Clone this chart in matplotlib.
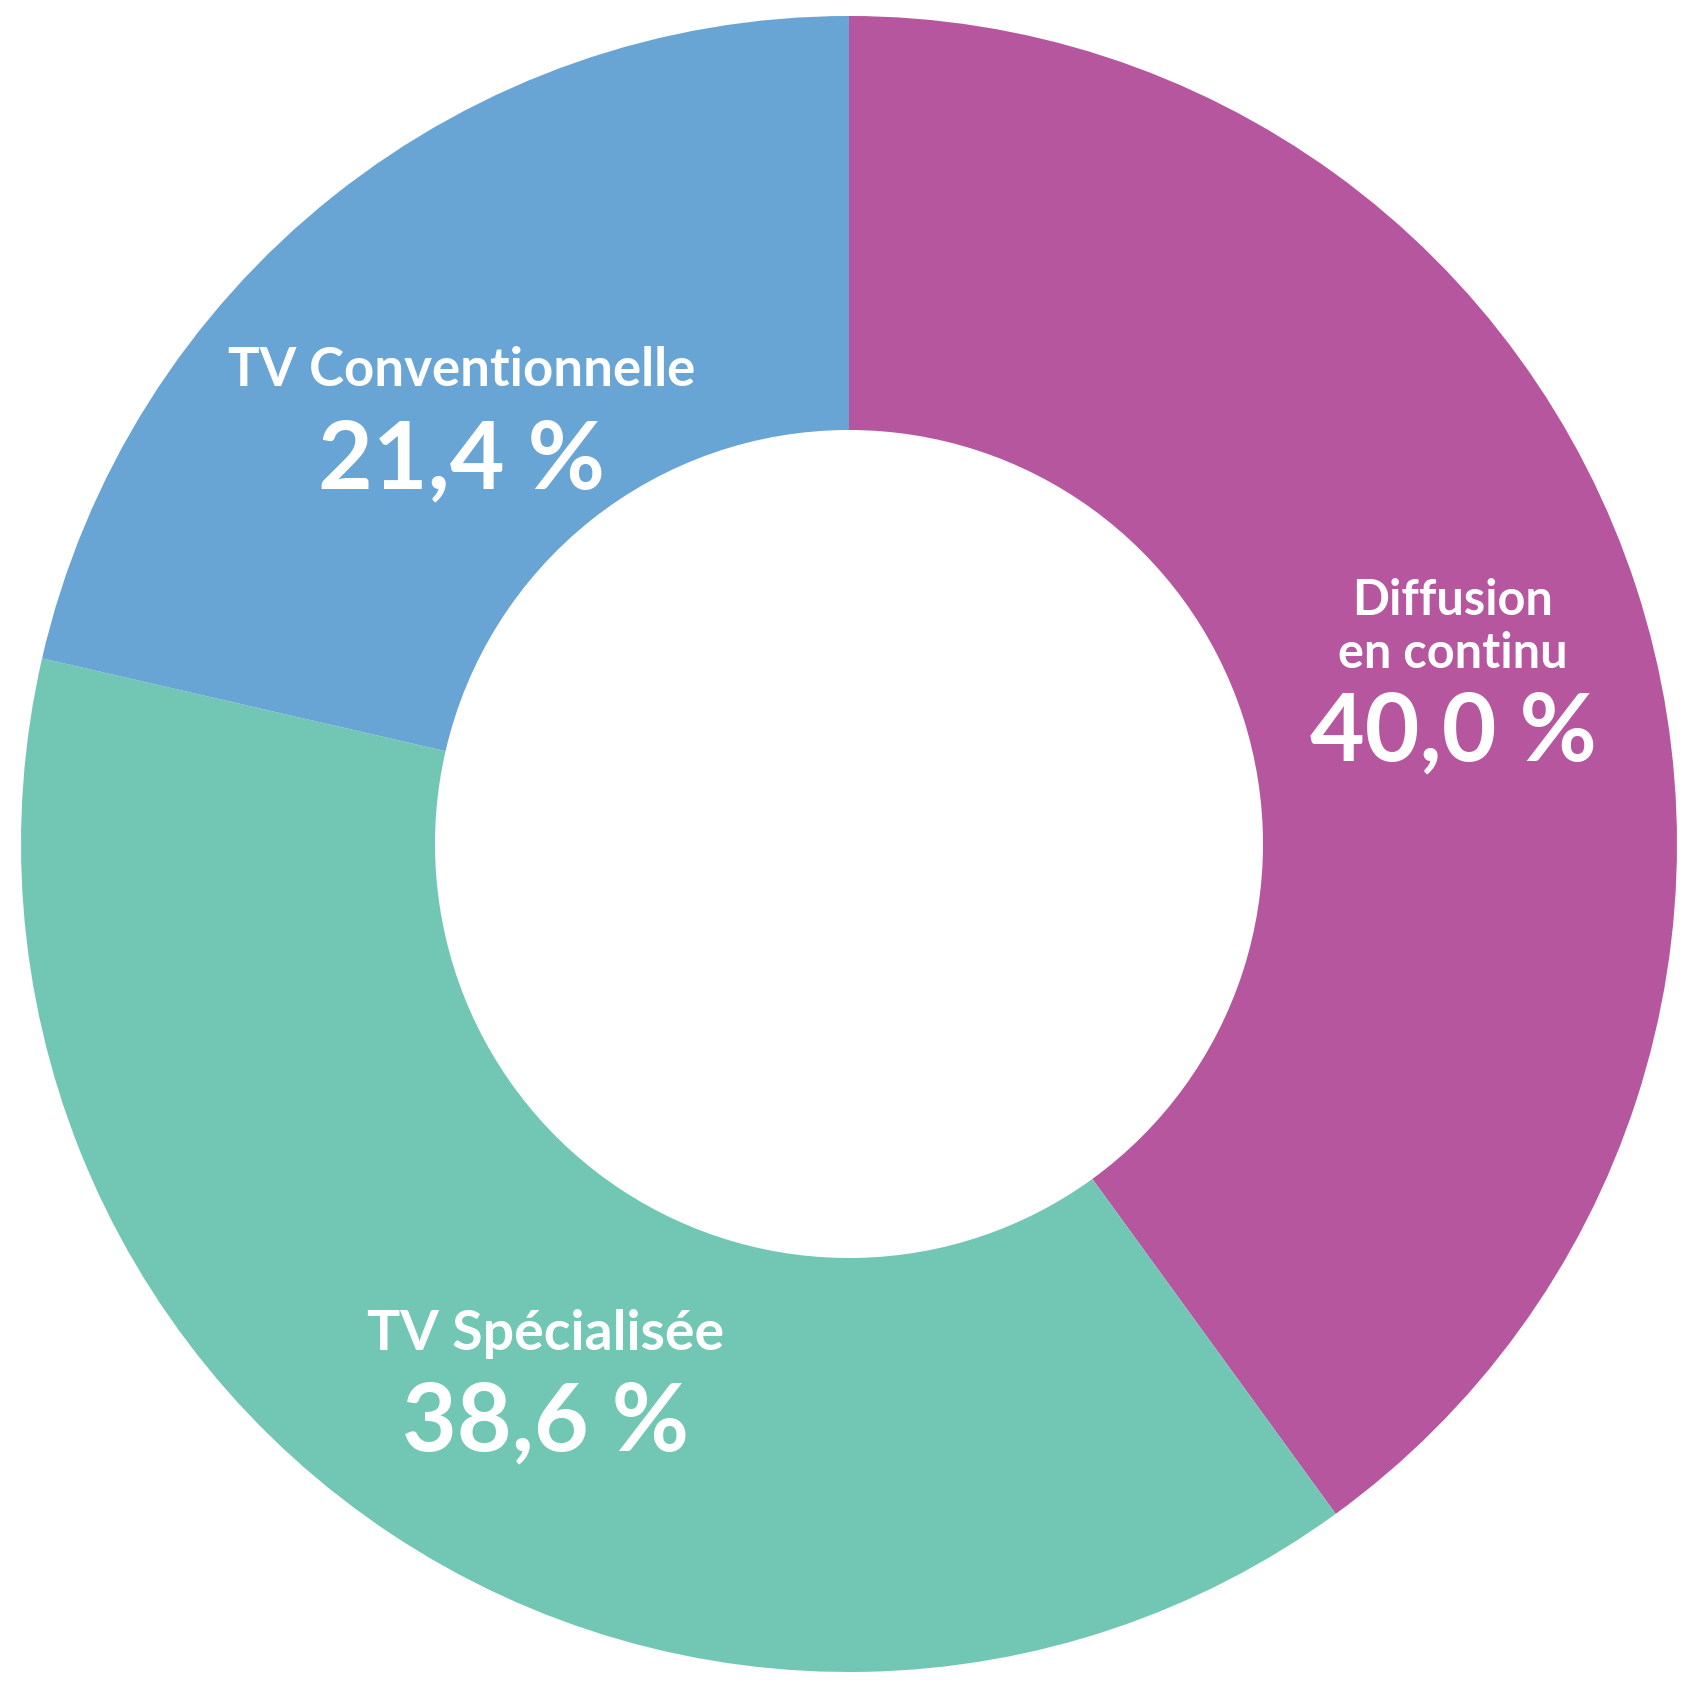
import matplotlib
matplotlib.use("Agg")
import matplotlib.pyplot as plt

# données du graphique
categories = ["Diffusion\nen continu", "TV Spécialisée", "TV Conventionnelle"]
parts = [40.0, 38.6, 21.4]
couleurs = ["#B6569F", "#72C7B4", "#68A5D4"]

W, H = 1700, 1691
fig = plt.figure(figsize=(W / 100, H / 100), dpi=100)
ax = fig.add_axes([0, 0, 1, 1])

cx, cy, r = 849, H - 844, 828
ax.pie(parts, colors=couleurs, startangle=90, counterclock=False,
       center=(cx, cy), radius=r,
       wedgeprops=dict(width=r * 0.5, linewidth=0))

ax.set_xlim(0, W)
ax.set_ylim(0, H)
ax.set_aspect("equal")
ax.axis("off")

police = "Lato"
# positions des étiquettes (pixels, origine en haut)
pos_nom = [(1453, 627), (546, 1334), (462, 370)]
pos_val = [(1453, 733), (546, 1424), (462, 461)]
tailles = [35, 40, 38]

for nom, val, t, (xn, yn), (xv, yv) in zip(categories, parts, tailles, pos_nom, pos_val):
    ax.text(xn, H - yn, nom, ha="center", va="center", color="white",
            fontsize=t, fontweight="bold", family=police, linespacing=1.2)
    txt = f"{val:.1f}".replace(".", ",") + " %"
    ax.text(xv, H - yv, txt, ha="center", va="center", color="white",
            fontsize=68, fontweight="bold", family=police)

fig.savefig("out.png", dpi=100, facecolor="white")
